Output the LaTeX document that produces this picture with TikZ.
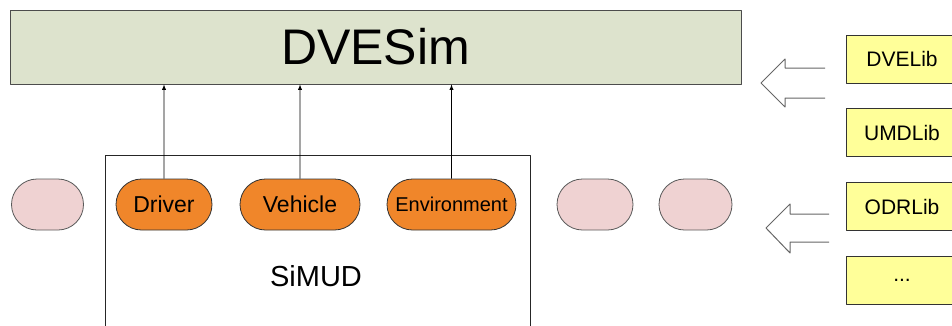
\documentclass[tikz,border=0pt]{standalone}
\usepackage{fontspec}
\setmainfont{Liberation Sans}
\usetikzlibrary{shapes, positioning}

\definecolor{simgreen}{HTML}{DDE3CD}
\definecolor{modorange}{HTML}{F0862A}
\definecolor{modpink}{HTML}{EFD2D2}
\definecolor{libyellow}{HTML}{FFFF99}

\newcommand{\fs}[1]{\fontsize{#1}{#1}\selectfont}

\begin{document}
\begin{tikzpicture}[>=latex, x=1pt, y=-1pt, line join=round]

\clip (0,0) rectangle (952,325);

\tikzset{
  module/.style = {draw=black!80, line width=0.8pt, fill=modorange, shape=rounded rectangle, minimum height=51pt, inner sep=1pt, font=\fs{23}},
  spare/.style = {module, draw=black!65, fill=modpink},
  lib/.style = {draw=black!80, line width=0.8pt, fill=libyellow, minimum width=112pt, minimum height=48pt, inner sep=1pt, font=\fs{21}},
  hollow/.style = {draw=black!60, line width=1pt}
}

% simulator on top
\node[draw=black!70, line width=0.8pt, fill=simgreen, minimum width=731pt, minimum height=74pt, font=\fs{50}] (dvesim) at (375.5,47) {DVESim};

% SiMUD frame
\node[draw=black!85, line width=1pt, minimum width=425pt, minimum height=190pt] (simud) at (317.5,250) {};
\node[font=\fs{29}] (simud-label) at (316,276) {SiMUD};

% modules in a row
\node[spare, minimum width=74pt] (spare-left) at (47.5,204.5) {};
\node[module, minimum width=98pt] (driver) at (164,204.5) {Driver};
\node[module, minimum width=122pt] (vehicle) at (300,204.5) {Vehicle};
\node[module, minimum width=131pt, font=\fs{20}] (environment) at (451.5,204.5) {Environment};
\node[spare, minimum width=78pt] (spare-mid) at (595,204.5) {};
\node[spare, minimum width=75pt] (spare-right) at (695.5,204.5) {};

\draw[->, line width=0.9pt] (driver) -- (driver |- dvesim.south);
\draw[->, line width=0.9pt] (vehicle) -- (vehicle |- dvesim.south);
\draw[->, line width=0.9pt] (environment) -- (environment |- dvesim.south);

% libraries
\begin{scope}[node distance = 25pt]
\node[lib] (dvelib) at (902,59) {DVELib};
\node[lib, below = of dvelib] (umdlib) {UMDLib};
\node[lib, below = of umdlib] (odrlib) {ODRLib};
\node[lib, below = of odrlib] (more) {...};
\end{scope}

\coordinate (tip-top) at (761,83);
\coordinate (tip-bottom) at (766,228);

\draw[hollow, shift={(tip-top)}] (64,-15) -- (24,-15) -- (24,-24) -- (0,0) -- (24,24) -- (24,15) -- (64,15);
\draw[hollow, shift={(tip-bottom)}] (63,-14) -- (24,-14) -- (24,-24) -- (0,0) -- (24,25) -- (24,14) -- (63,14);

\end{tikzpicture}
\end{document}
